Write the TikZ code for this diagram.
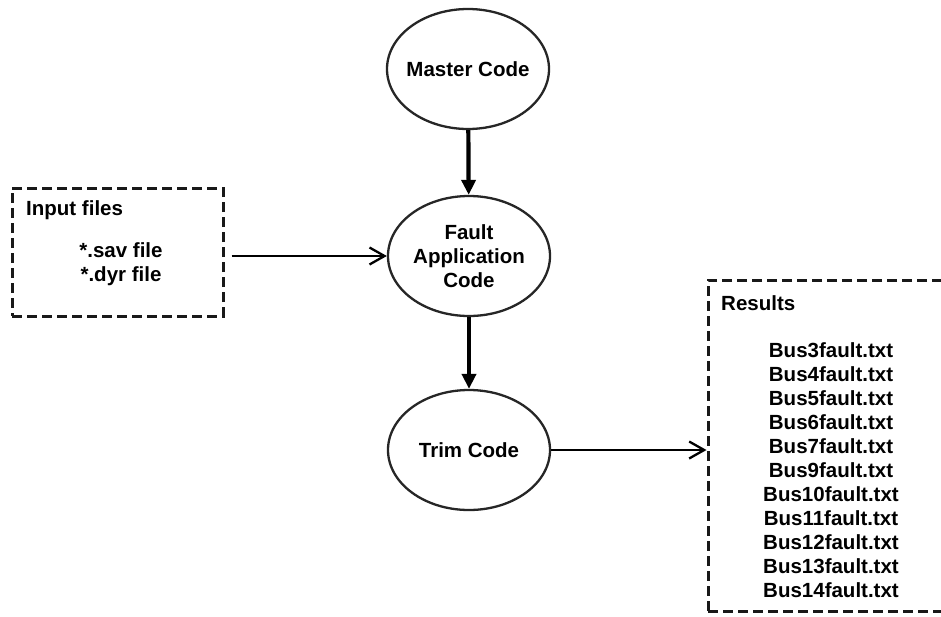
\documentclass[tikz,border=0pt]{standalone}
\usepackage{fontspec}
\setmainfont{Liberation Sans}
\usetikzlibrary{shapes.geometric,arrows.meta}

\tikzset{
  labelfont/.style={font=\bfseries\fontsize{20.5}{24}\selectfont},
  % ellipse of fixed size; its text is set as a centred label so that
  % long words do not widen the outline
  codeblob/.style={ellipse, draw=black!85, line width=2.3pt, fill=white,
    minimum width=162pt, minimum height=120pt, inner sep=0pt,
    label={[labelfont, align=center, inner sep=0pt]center:#1}},
  filebox/.style={draw=black!90, line width=3pt, dash pattern=on 10pt off 5pt,
    inner sep=0pt},
  boxtitle/.style={anchor=west, inner sep=0pt, labelfont},
  filelist/.style={align=center, inner sep=0pt, labelfont},
  heavyflow/.style={line width=4.2pt, -{Triangle[length=15pt,width=14pt]}},
  lightflow/.style={line width=2.3pt, -{Straight Barb[length=15pt,width=17pt,line width=2.3pt]}}
}

\begin{document}
\begin{tikzpicture}[x=1pt,y=-1pt]
  \useasboundingbox (0,0) rectangle (941,616);

  % processing stages
  \node[codeblob={Master Code}] (master) at (468,69) {};
  \node[codeblob={Fault\\Application\\Code}] (fault) at (469,256) {};
  \node[codeblob={Trim Code}] (trim) at (469,450) {};

  % input files box
  \node[filebox, minimum width=211pt, minimum height=128pt] (inbox) at (117.5,252) {};
  \node[boxtitle] (intitle) at (26,210) {Input files};
  \node[filelist] (inlist) at (121,264) {*.sav file\\*.dyr file};

  % results box (runs off the right edge)
  \node[filebox, minimum width=244pt, minimum height=331pt] (resbox) at (830,445.5) {};
  \node[boxtitle] (restitle) at (721,303) {Results};
  \node[filelist] (reslist) at (831,470) {Bus3fault.txt\\Bus4fault.txt\\Bus5fault.txt\\Bus6fault.txt\\Bus7fault.txt\\Bus9fault.txt\\Bus10fault.txt\\Bus11fault.txt\\Bus12fault.txt\\Bus13fault.txt\\Bus14fault.txt};

  % connectors
  \draw[heavyflow] (master) -- (fault);
  \draw[heavyflow] (fault) -- (trim);
  \draw[lightflow, shorten <=7pt] (inbox.east |- fault.west) -- (fault.west);
  \draw[lightflow] (trim.east) -- (trim.east -| resbox.west);
\end{tikzpicture}
\end{document}
